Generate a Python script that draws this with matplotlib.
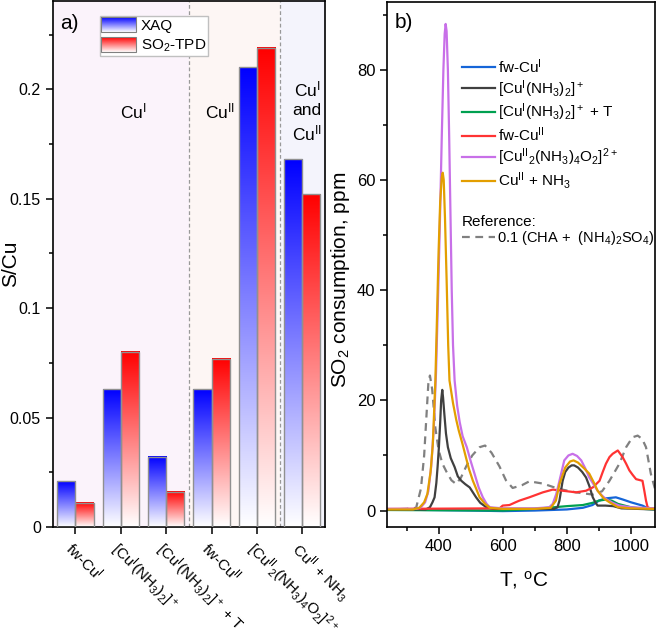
import numpy as np
import matplotlib
matplotlib.use("Agg")
import matplotlib.pyplot as plt
from matplotlib.colors import LinearSegmentedColormap
from matplotlib.legend_handler import HandlerBase
from matplotlib.image import BboxImage
from matplotlib.transforms import Bbox, TransformedBbox
from matplotlib.patches import Rectangle
from matplotlib.ticker import MultipleLocator, FormatStrFormatter

plt.rcParams['font.family'] = ['Liberation Sans', 'DejaVu Sans']
plt.rcParams['mathtext.fontset'] = 'custom'
plt.rcParams['mathtext.rm'] = 'Liberation Sans'
plt.rcParams['mathtext.it'] = 'Liberation Sans:italic'
plt.rcParams['mathtext.bf'] = 'Liberation Sans:bold'

# ---- panel a data ----
samples = ["fw-Cu$^{\\mathrm{I}}$",
           "[Cu$^{\\mathrm{I}}$(NH$_3$)$_2$]$^+$",
           "[Cu$^{\\mathrm{I}}$(NH$_3$)$_2$]$^+$ + T",
           "fw-Cu$^{\\mathrm{II}}$",
           "[Cu$^{\\mathrm{II}}$$_2$(NH$_3$)$_4$O$_2$]$^{2+}$",
           "Cu$^{\\mathrm{II}}$ + NH$_3$"]
xaq = [0.021, 0.063, 0.032, 0.063, 0.210, 0.168]
tpd = [0.011, 0.080, 0.016, 0.077, 0.219, 0.152]

# ---- panel b data (T in C, SO2 consumption in ppm) ----
T_fwCuI = [240, 500, 600, 700, 800, 850, 880, 900, 920, 953, 975, 1000, 1036, 1050, 1075]
y_fwCuI = [0.2, 0.0, -0.1, 0.0, 0.2, 0.5, 1.0, 1.8, 2.2, 2.4, 2.0, 1.5, 0.9, 0.5, 0.3]

T_cuI = [240, 360, 373, 381, 387.5, 393, 397, 401, 405, 408, 411.5, 414, 418, 423, 429, 438,
         450, 460, 471, 483, 497, 507, 517, 530, 549, 570, 760, 771, 777, 783, 787, 795, 805,
         815, 823, 835, 848, 860, 870, 881, 890, 896, 920, 945, 970, 1075]
y_cuI = [0.2, 0.2, 0.6, 1.5, 2.4, 5, 8, 11.5, 16, 20, 21.9, 20.5, 17.5, 14, 11.5, 9.5,
         7.9, 6.2, 5.4, 4.8, 4.2, 3.3, 2.4, 1.4, 0.6, 0.3, 0.3, 0.6, 1.8, 4, 5.4, 7, 7.8,
         8.2, 8.2, 7.8, 7, 6, 4.5, 2.4, 1.4, 0.9, 0.9, 0.8, 0.4, 0.2]

T_cuIT = [240, 600, 700, 760, 800, 850, 880, 900, 922, 940, 960, 1000, 1040, 1075]
y_cuIT = [0.1, 0.0, 0.3, 0.6, 0.8, 1.0, 1.4, 1.8, 2.0, 1.8, 1.2, 0.6, 0.3, 0.2]

T_fwCuII = [240, 590, 600, 621, 640, 652, 683, 725, 756, 787, 829, 860, 881, 902, 912, 922,
            933, 943, 959, 974, 985, 995, 1005, 1016, 1036, 1042, 1047, 1052, 1060, 1075]
y_fwCuII = [0.3, 0.4, 0.9, 1.0, 1.5, 1.8, 2.4, 3.3, 3.8, 3.6, 3.3, 3.6, 4.2, 5.4, 7, 8.5,
            9.7, 10.3, 10.9, 9.7, 8.5, 7.3, 6.5, 5.7, 5.4, 3.5, 1.8, 0.6, 0.4, 0.4]

T_cuII2 = [240, 330, 345, 358, 368, 377, 385, 392, 398, 404, 410, 415, 419, 422, 425, 429,
           433, 437, 441, 445, 450, 458, 466, 475, 488, 500, 512, 525, 538, 550, 560, 600,
           700, 745, 756, 767, 777, 792, 805, 818, 832, 845, 858, 870, 883, 896, 910, 922,
           943, 964, 1000, 1075]
y_cuII2 = [0.3, 0.3, 0.6, 1.5, 3.5, 8, 15, 25, 38, 52, 68, 80, 86.5, 88.3, 87, 80,
           68, 54, 40, 30, 23.6, 19, 16, 13.5, 11.5, 9, 6.7, 4.2, 2.4, 1.2, 0.6, 0.4,
           0.4, 0.6, 1.2, 3, 5.4, 9.1, 10, 10.3, 9.9, 9.1, 7.6, 6, 4.8, 3.6, 2.7, 2.1,
           1.4, 0.9, 0.6, 0.4]

T_cuIINH3 = [240, 320, 340, 355, 365, 375, 382, 390, 395, 400, 405, 410, 413, 416, 420, 425,
             430, 434, 445, 455, 463, 475, 486, 495, 507, 517, 528, 545, 560, 600, 700, 750,
             766, 777, 795, 810, 821, 835, 855, 870, 885, 896, 915, 933, 960, 1000, 1075]
y_cuIINH3 = [0.2, 0.2, 0.5, 1.5, 3, 7, 12, 23.6, 35, 47, 56, 60.5, 61.3, 60, 53, 42,
             30, 23.6, 19.5, 16.5, 14.5, 12, 9.5, 7.5, 5.4, 4, 2.4, 1.2, 0.5, 0.3, 0.3, 0.5,
             1.8, 4.8, 7.8, 8.9, 9.1, 8.7, 7.6, 6.7, 5, 3.6, 2.2, 1.5, 0.6, 0.4, 0.3]

T_ref = [240, 300, 330, 345, 355, 362, 368, 373, 380, 390, 400, 412, 425, 440, 455, 470, 486,
         505, 528, 545, 565, 590, 610, 631, 660, 683, 725, 777, 829, 881, 910, 933, 964, 985,
         1005, 1021, 1035, 1047, 1062, 1078]
y_ref = [0.2, 0.3, 0.5, 4, 10, 17, 23, 24.5, 22, 15, 11, 8.5, 7, 5.5, 4.8, 6, 8,
         10, 11.5, 11.8, 10.5, 8, 5.5, 4.1, 4.6, 5.3, 4.9, 3.9, 3.3, 2.9, 3.5, 5.4, 8.5, 11.5,
         13.3, 13.6, 13, 11.5, 6.7, 3.3]

blue_cmap = LinearSegmentedColormap.from_list('bl', ['white', '#0000ff'])
red_cmap = LinearSegmentedColormap.from_list('rd', ['white', '#ff0000'])
grad = np.linspace(0, 1, 256).reshape(-1, 1)


class GradHandler(HandlerBase):
    def __init__(self, cmap):
        super().__init__()
        self.cmap = cmap

    def create_artists(self, legend, orig_handle, xdescent, ydescent, width, height, fontsize, trans):
        bb = TransformedBbox(Bbox.from_bounds(-xdescent, -ydescent, width, height), trans)
        img = BboxImage(bb, cmap=self.cmap, interpolation='bilinear', origin='lower')
        img.set_data(grad)
        img.set_clim(0, 1)
        rect = Rectangle((-xdescent, -ydescent), width, height, fill=False,
                         edgecolor='#808080', lw=0.8, transform=trans)
        return [img, rect]


fig = plt.figure(figsize=(6.6, 6.32), dpi=100)
ax1 = fig.add_axes([0.080, 0.166, 0.4124, 0.833])
ax2 = fig.add_axes([0.5868, 0.166, 0.4056, 0.831])

# ---------------- panel a ----------------
x = np.arange(len(samples))
w = 0.4
ax1.axvspan(-0.5, 2.5, color='#fbf3fb', zorder=0, lw=0)
ax1.axvspan(2.5, 4.5, color='#fdf6f4', zorder=0, lw=0)
ax1.axvspan(4.5, 5.5, color='#f4f4fc', zorder=0, lw=0)
for xs in (2.5, 4.5):
    ax1.axvline(xs, color='#999999', ls=(0, (3, 2)), lw=0.9, zorder=1)

b1 = ax1.bar(x - w / 2, xaq, w, facecolor='none', edgecolor='#909090', lw=1, zorder=3)
b2 = ax1.bar(x + w / 2, tpd, w, facecolor='none', edgecolor='#909090', lw=1, zorder=3)
for bars, cm in ((b1, blue_cmap), (b2, red_cmap)):
    for r in bars:
        x0, bw, h = r.get_x(), r.get_width(), r.get_height()
        ax1.imshow(grad, extent=(x0, x0 + bw, 0, h), cmap=cm, aspect='auto',
                   origin='lower', zorder=2, vmin=0, vmax=1)

ax1.set_xlim(-0.5, 5.5)
ax1.set_ylim(0, 0.2405)
ax1.yaxis.set_major_locator(MultipleLocator(0.05))
ax1.yaxis.set_minor_locator(MultipleLocator(0.025))
ax1.yaxis.set_major_formatter(FormatStrFormatter('%g'))
ax1.set_xticks(x)
ax1.set_xticklabels(samples, rotation=-45, ha='left', va='top', rotation_mode='anchor', fontsize=11)
ax1.tick_params(axis='y', labelsize=11.5)
ax1.tick_params(direction='out', length=5, width=1.1)
ax1.tick_params(which='minor', direction='out', length=3, width=1.1)
ax1.set_ylabel('S/Cu', fontsize=15)
ax1.yaxis.set_label_coords(-0.12, 0.5)
for s in ax1.spines.values():
    s.set_linewidth(1.2)

ax1.text(0.026, 0.975, 'a)', transform=ax1.transAxes, fontsize=15, ha='left', va='top')
ax1.text(1.27, 0.190, 'Cu$^{\\mathrm{I}}$', fontsize=12.5, ha='center', va='center')
ax1.text(3.18, 0.190, 'Cu$^{\\mathrm{II}}$', fontsize=12.5, ha='center', va='center')
ax1.text(5.1, 0.190, 'Cu$^{\\mathrm{I}}$\nand\nCu$^{\\mathrm{II}}$', fontsize=12.5,
         ha='center', va='center', linespacing=1.3)

p1 = Rectangle((0, 0), 1, 1)
p2 = Rectangle((0, 0), 1, 1)
ax1.legend([p1, p2], ['XAQ', 'SO$_2$-TPD'], loc='upper left', bbox_to_anchor=(0.173, 0.9715),
           borderaxespad=0, fontsize=11, handlelength=2.25, handleheight=1.1,
           handletextpad=0.35, labelspacing=0.3, borderpad=0.1, fancybox=False,
           framealpha=1, edgecolor='#c0c0c0',
           handler_map={p1: GradHandler(blue_cmap), p2: GradHandler(red_cmap)})

# ---------------- panel b ----------------
ref_line, = ax2.plot(T_ref, y_ref, color='#808080', lw=1.6, ls=(0, (3.5, 2.5)),
                     label='0.1 (CHA +  (NH$_4$)$_2$SO$_4$)')
l1, = ax2.plot(T_fwCuI, y_fwCuI, color='#1565d8', lw=1.6, label='fw-Cu$^{\\mathrm{I}}$')
l3, = ax2.plot(T_cuIT, y_cuIT, color='#00a050', lw=1.6,
               label='[Cu$^{\\mathrm{I}}$(NH$_3$)$_2$]$^+$ + T')
l2, = ax2.plot(T_cuI, y_cuI, color='#404040', lw=1.6,
               label='[Cu$^{\\mathrm{I}}$(NH$_3$)$_2$]$^+$')
l4, = ax2.plot(T_fwCuII, y_fwCuII, color='#ff3333', lw=1.6, label='fw-Cu$^{\\mathrm{II}}$')
l5, = ax2.plot(T_cuII2, y_cuII2, color='#c870e8', lw=1.6,
               label='[Cu$^{\\mathrm{II}}$$_2$(NH$_3$)$_4$O$_2$]$^{2+}$')
l6, = ax2.plot(T_cuIINH3, y_cuIINH3, color='#e39e00', lw=1.6,
               label='Cu$^{\\mathrm{II}}$ + NH$_3$')

ax2.set_xlim(240, 1075)
ax2.set_ylim(-3, 92.3)
ax2.xaxis.set_major_locator(MultipleLocator(200))
ax2.xaxis.set_minor_locator(MultipleLocator(100))
ax2.yaxis.set_major_locator(MultipleLocator(20))
ax2.yaxis.set_minor_locator(MultipleLocator(10))
ax2.tick_params(labelsize=12)
ax2.tick_params(direction='out', length=5, width=1.1)
ax2.tick_params(which='minor', direction='out', length=3, width=1.1)
ax2.set_xlabel('T, $^{\\mathrm{o}}$C', fontsize=15)
ax2.xaxis.set_label_coords(0.51, -0.08)
ax2.set_ylabel('SO$_2$ consumption, ppm', fontsize=15)
ax2.yaxis.set_label_coords(-0.132, 0.47)
for s in ax2.spines.values():
    s.set_linewidth(1.2)
ax2.text(0.029, 0.978, 'b)', transform=ax2.transAxes, fontsize=15, ha='left', va='top')

leg1 = ax2.legend(handles=[l1, l2, l3, l4, l5, l6], loc='upper left', bbox_to_anchor=(0.278, 0.895),
                  frameon=False, fontsize=11, handlelength=2.2, handletextpad=0.15,
                  labelspacing=0.15, borderpad=0, borderaxespad=0)
ax2.add_artist(leg1)
ax2.legend(handles=[ref_line], loc='upper left', bbox_to_anchor=(0.278, 0.595), frameon=False,
           fontsize=10.5, title='Reference:', title_fontsize=11, alignment='left',
           handlelength=2.3, handletextpad=0.15, labelspacing=0.05, borderpad=0, borderaxespad=0)

fig.savefig('out.png', dpi=100)
